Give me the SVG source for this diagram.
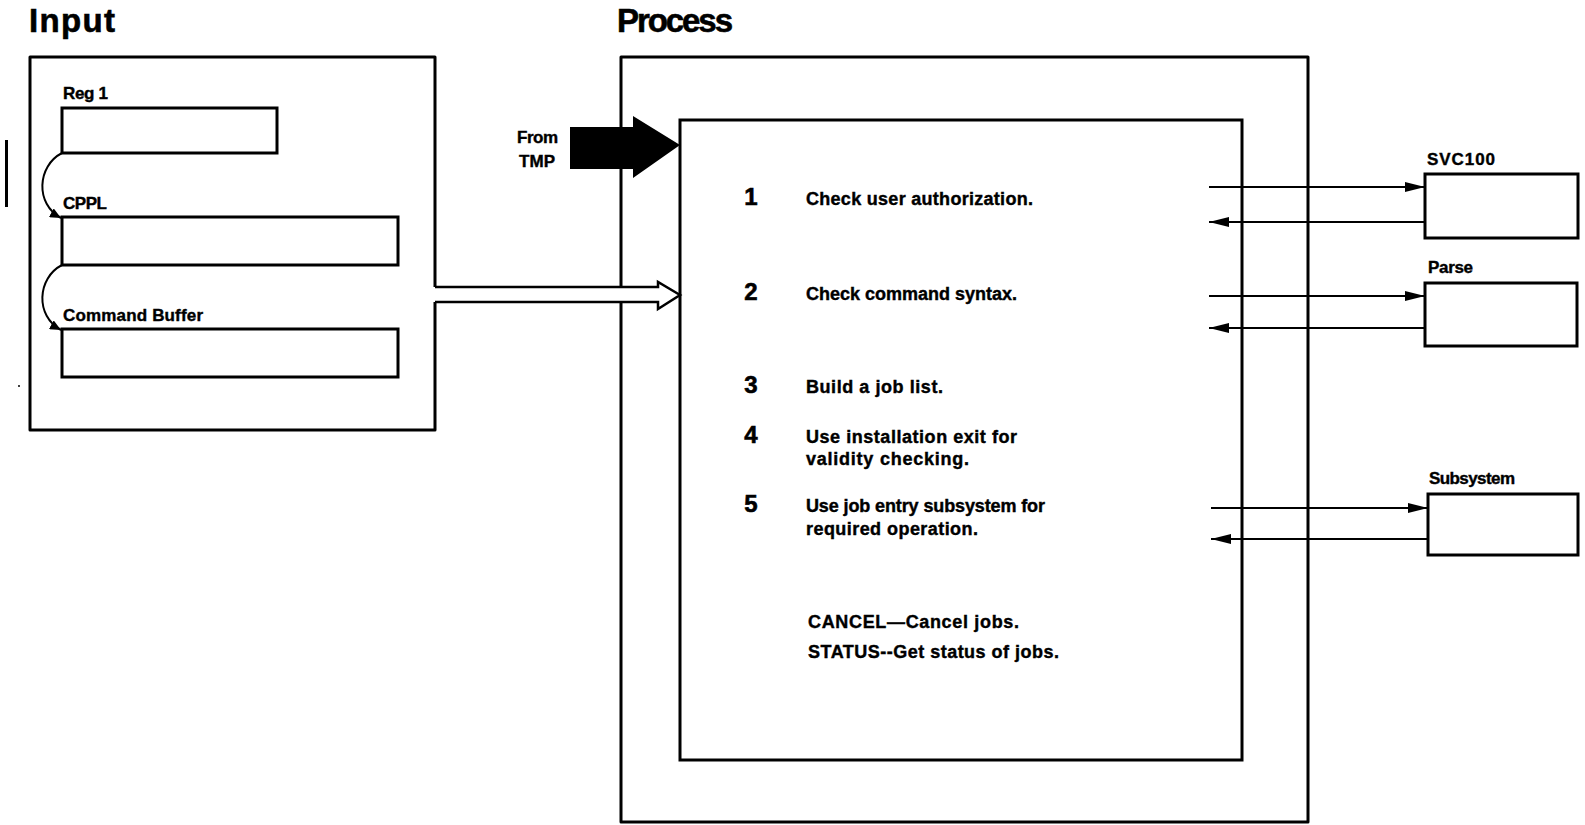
<svg xmlns="http://www.w3.org/2000/svg" width="1585" height="825" viewBox="0 0 1585 825">
  <style>
    text { font-family: "Liberation Sans", Arial, sans-serif; font-weight: bold; fill: #000; stroke: #000; stroke-width: 0.4; }
    .title { font-size: 33px; stroke-width: 0.6; }
    .label { font-size: 17px; }
    .step { font-size: 18px; }
    .num { font-size: 24px; text-anchor: middle; stroke-width: 0.6; }
    .box { fill: #fff; stroke: #000; stroke-width: 3; }
    .frame { fill: none; stroke: #000; stroke-width: 3; stroke-linejoin: round; }
    .call { fill: none; stroke: #000; stroke-width: 2; marker-end: url(#head); }
    .link { fill: none; stroke: #000; stroke-width: 2; marker-end: url(#small); }
  </style>
  <defs>
    <marker id="head" markerUnits="userSpaceOnUse" markerWidth="20" markerHeight="10" refX="20" refY="5" orient="auto">
      <path d="M0,0 L20,5 L0,10 z" fill="#000"/>
    </marker>
    <marker id="small" markerUnits="userSpaceOnUse" markerWidth="12" markerHeight="10" refX="11" refY="5" orient="auto">
      <path d="M0,0 L11,5 L0,10 z" fill="#000"/>
    </marker>
  </defs>
  <rect width="1585" height="825" fill="#fff"/>

  <!-- margin change bar and speck -->
  <rect x="5" y="140" width="3" height="67" fill="#000"/>
  <circle cx="19" cy="386" r="1" fill="#000"/>

  <!-- section titles -->
  <text class="title" x="29" y="32" textLength="86">Input</text>
  <text class="title" x="617" y="32" textLength="116">Process</text>

  <!-- input area -->
  <g id="input-area">
    <path class="frame" d="M435,287 L435,57 L30,57 L30,430 L435,430 L435,302"/>
  </g>
  <g id="reg1">
    <text class="label" x="63" y="99" textLength="45">Reg 1</text>
    <rect class="box" x="62" y="108" width="215" height="45"/>
  </g>
  <g id="cppl">
    <text class="label" x="63" y="209" textLength="44">CPPL</text>
    <rect class="box" x="62" y="217" width="336" height="48"/>
  </g>
  <g id="command-buffer">
    <text class="label" x="63" y="321" textLength="140">Command Buffer</text>
    <rect class="box" x="62" y="329" width="336" height="48"/>
  </g>

  <!-- process area -->
  <g id="process-area">
    <rect class="frame" x="621" y="57" width="687" height="765"/>
  </g>
  <g id="process-steps">
    <rect class="box" x="680" y="120" width="562" height="640"/>
    <text class="num" x="751" y="205">1</text>
    <text class="step" x="806" y="205" textLength="227">Check user authorization.</text>
    <text class="num" x="751" y="300">2</text>
    <text class="step" x="806" y="300" textLength="211">Check command syntax.</text>
    <text class="num" x="751" y="393">3</text>
    <text class="step" x="806" y="393" textLength="137">Build a job list.</text>
    <text class="num" x="751" y="443">4</text>
    <text class="step" x="806" y="443" textLength="211">Use installation exit for</text>
    <text class="step" x="806" y="465" textLength="163">validity checking.</text>
    <text class="num" x="751" y="512">5</text>
    <text class="step" x="806" y="512" textLength="239">Use job entry subsystem for</text>
    <text class="step" x="806" y="535" textLength="172">required operation.</text>
    <text class="step" x="808" y="628" textLength="211">CANCEL—Cancel jobs.</text>
    <text class="step" x="808" y="658" textLength="251">STATUS--Get status of jobs.</text>
  </g>

  <!-- called routines -->
  <g id="svc100">
    <text class="label" x="1427" y="165" textLength="68">SVC100</text>
    <rect class="box" x="1425" y="174" width="153" height="64"/>
  </g>
  <g id="parse">
    <text class="label" x="1428" y="273" textLength="45">Parse</text>
    <rect class="box" x="1425" y="283" width="152" height="63"/>
  </g>
  <g id="subsystem">
    <text class="label" x="1429" y="484" textLength="86">Subsystem</text>
    <rect class="box" x="1428" y="494" width="150" height="61"/>
  </g>

  <!-- entry from TMP -->
  <g id="from-tmp">
    <text class="label" x="517" y="143" textLength="41">From</text>
    <text class="label" x="519" y="167" textLength="36">TMP</text>
  </g>

  <g id="connectors">
    <!-- pointer chain -->
    <path class="link" d="M62,153 C37,166 35,204 61,218"/>
    <path class="link" d="M62,265 C37,278 35,316 61,330"/>
    <!-- input data into process -->
    <polyline points="435,287 658,287 658,282 680,295 658,309 658,302 435,302" fill="#fff" stroke="#000" stroke-width="2.5" stroke-linejoin="miter"/>
    <!-- control from TMP -->
    <polygon points="570,127 633,127 633,116 680,145 633,178 633,169 570,169" fill="#000"/>
    <!-- calls and returns -->
    <line class="call" x1="1209" y1="187" x2="1425" y2="187"/>
    <line class="call" x1="1425" y1="222" x2="1209" y2="222"/>
    <line class="call" x1="1209" y1="296" x2="1425" y2="296"/>
    <line class="call" x1="1425" y1="328" x2="1209" y2="328"/>
    <line class="call" x1="1211" y1="508" x2="1428" y2="508"/>
    <line class="call" x1="1428" y1="539" x2="1211" y2="539"/>
  </g>
</svg>
